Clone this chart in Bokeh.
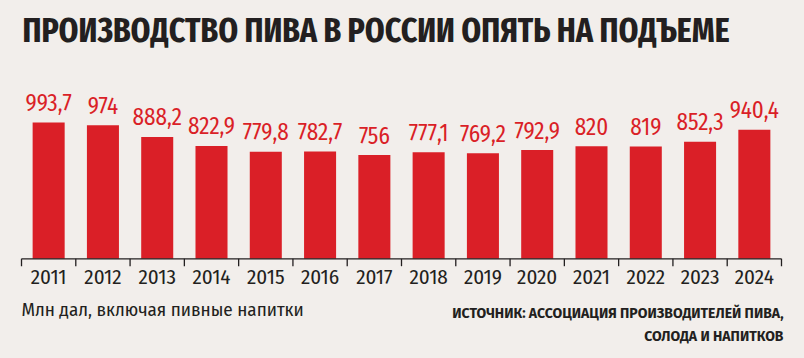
from bokeh.plotting import figure
from bokeh.models import FactorRange, Label, ColumnDataSource
from bokeh.core.properties import value
from bokeh.transform import dodge
from bokeh.embed import file_html
from bokeh.resources import INLINE

# ---- data ----
years = ["2011", "2012", "2013", "2014", "2015", "2016", "2017",
         "2018", "2019", "2020", "2021", "2022", "2023", "2024"]
production = [993.7, 974.0, 888.2, 822.9, 779.8, 782.7, 756.0,
              777.1, 769.2, 792.9, 820.0, 819.0, 852.3, 940.4]
value_labels = [f"{v:g}".replace(".", ",") for v in production]

title_text = "ПРОИЗВОДСТВО ПИВА В РОССИИ ОПЯТЬ НА ПОДЪЕМЕ"
subtitle_text = "Млн дал, включая пивные напитки"
source_line1 = "ИСТОЧНИК: АССОЦИАЦИЯ ПРОИЗВОДИТЕЛЕЙ ПИВА,"
source_line2 = "СОЛОДА И НАПИТКОВ"

# ---- style / layout ----
BG = "#f2eeeb"
RED = "#da1f27"
DARK = "#231f20"
FONT = "Fira Sans Condensed"
TITLE_FONT = "Fira Sans Extra Condensed"
SOURCE_FONT = "Fira Sans"

W, H = 804, 358
FRAME_W = 802                  # frame spans x = 0 .. 802
PAD = 0.387                    # factor padding (left edge of first category at x = 21)
K = 0.1372                     # px per million decalitres
BASE = 258.3                   # pixel row of the baseline
Y0 = -(H - BASE) / K
Y1 = BASE / K


def ydata(py):
    """pixel row -> data value on the y scale"""
    return (BASE - py) / K


xr = FactorRange(*years, range_padding=PAD, range_padding_units="absolute")
p = figure(width=W, height=H, x_range=xr, y_range=(Y0, Y1),
           output_backend="svg", toolbar_location=None,
           min_border_left=0, min_border_right=W - FRAME_W,
           min_border_top=0, min_border_bottom=0,
           background_fill_color=BG, border_fill_color=BG,
           outline_line_color=None)
p.grid.visible = False
p.axis.visible = False

src = ColumnDataSource(dict(year=years, value=production, label=value_labels))

p.vbar(x="year", top="value", bottom=0, width=0.59, source=src,
       fill_color=RED, line_color=None)

# value labels
p.text(x="year", y="value", text="label", source=src,
       text_align="center", text_baseline="alphabetic", y_offset=-20,
       text_color=RED, text_font=value(FONT), text_font_size="23px")

# category labels
p.text(x="year", y=ydata(276.8), text="year", source=src,
       text_align="center", text_baseline="alphabetic",
       text_color=DARK, text_font=value(FONT), text_font_size="21px")

# baseline and boundary ticks
tick_end = ydata(265.7)
p.segment(x0=dodge("year", -0.5, range=xr), y0=0,
          x1=dodge("year", -0.5, range=xr), y1=tick_end,
          source=src, line_color=DARK, line_width=1.3)
ends = ColumnDataSource(dict(first=[years[0]], last=[years[-1]]))
p.segment(x0=dodge("last", 0.5, range=xr), y0=0,
          x1=dodge("last", 0.5, range=xr), y1=tick_end,
          source=ends, line_color=DARK, line_width=1.3)
p.segment(x0=dodge("first", -0.5, range=xr), y0=0,
          x1=dodge("last", 0.5, range=xr), y1=0,
          source=ends, line_color=DARK, line_width=1.3)

# texts (screen units: from frame bottom-left, y upward)
p.add_layout(Label(x=22, y=H - 30.4, x_units="screen", y_units="screen",
                   text=title_text, text_font=TITLE_FONT, text_font_style="bold",
                   text_font_size="34.4px", text_color=DARK, text_baseline="alphabetic"))
p.add_layout(Label(x=21, y=H - 309.3, x_units="screen", y_units="screen",
                   text=subtitle_text, text_font=FONT,
                   text_font_size="19px", text_color=DARK, text_baseline="alphabetic"))
p.add_layout(Label(x=783, y=H - 313.0, x_units="screen", y_units="screen",
                   text=source_line1, text_font=SOURCE_FONT, text_font_style="bold",
                   text_font_size="14px", text_color=DARK, text_align="right",
                   text_baseline="alphabetic"))
p.add_layout(Label(x=783, y=H - 336.0, x_units="screen", y_units="screen",
                   text=source_line2, text_font=SOURCE_FONT, text_font_style="bold",
                   text_font_size="14px", text_color=DARK, text_align="right",
                   text_baseline="alphabetic"))

html = file_html(p, INLINE)
html = html.replace("<head>", "<head><style>body{background:%s;}</style>" % BG, 1)
open("out.html", "w").write(html)
